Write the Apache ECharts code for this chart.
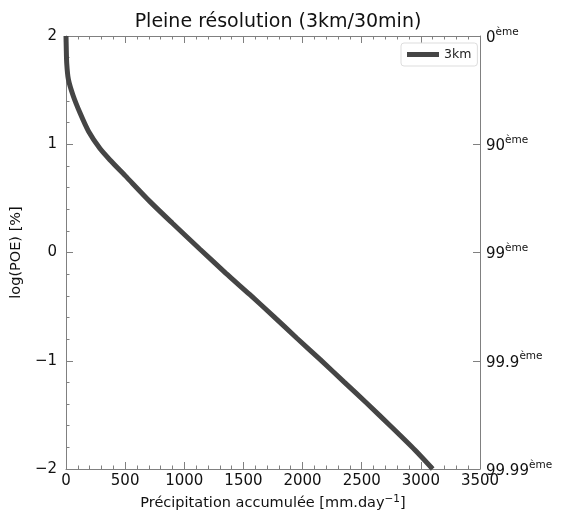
<!DOCTYPE html>
<html>
<head>
<meta charset="utf-8">
<script src="https://cdn.jsdelivr.net/npm/echarts@6/dist/echarts.min.js"></script>
<style>html,body{margin:0;padding:0;background:#fff}#c{width:565px;height:516px}</style>
</head>
<body>
<div id="c"></div>
<script>
const titleText = 'Pleine résolution (3km/30min)';
const seriesName = '3km';
const precip = [0, 2, 6, 20, 60, 118, 190, 287, 372, 500, 710, 900, 1133, 1350, 1555, 1750, 1950, 2150, 2350, 2550, 2750, 2950, 3100];
const logPoe = [2.0, 1.9, 1.75, 1.6, 1.45, 1.29, 1.12, 0.96, 0.855, 0.71, 0.47, 0.27, 0.03, -0.19, -0.39, -0.585, -0.79, -0.99, -1.195, -1.40, -1.61, -1.825, -2.0];
const leftTicks = [-2, -1, 0, 1, 2];
const centileLabels = ['99.99', '99.9', '99', '90', '0'];

const font = 'DejaVu Sans';
const axisGray = '#808080';
const pts = precip.map((x, i) => [x, logPoe[i]]);

const chart = echarts.init(document.getElementById('c'), null, {renderer: 'canvas'});
const baseX = {
  type: 'value', min: 0, max: 3500, interval: 500,
  axisLine: {show: true, onZero: false, lineStyle: {color: axisGray, width: 1}},
  axisTick: {show: true, inside: true, length: 7, lineStyle: {color: axisGray}},
  minorTick: {show: true, splitNumber: 5, length: 3.5, lineStyle: {color: axisGray}},
  splitLine: {show: false}
};
const baseY = {
  type: 'value', min: -2, max: 2, interval: 1,
  axisLine: {show: true, onZero: false, lineStyle: {color: axisGray, width: 1}},
  axisTick: {show: true, inside: true, length: 7, lineStyle: {color: axisGray}},
  splitLine: {show: false}
};
chart.setOption({
  animation: false,
  backgroundColor: '#fff',
  title: {
    text: titleText, left: 273, textAlign: 'center', top: 8,
    textStyle: {fontFamily: font, fontSize: 19, fontWeight: 'normal', color: '#111'}
  },
  grid: {left: 66, right: 85, top: 36, bottom: 47, containLabel: false, outerBoundsMode: 'none'},
  legend: {
    data: [seriesName], left: 401, top: 43, orient: 'vertical',
    padding: [5, 6, 5, 6], itemWidth: 32, itemHeight: 5, icon: 'rect',
    borderColor: '#dddddd', borderWidth: 1, borderRadius: 3,
    textStyle: {fontFamily: font, fontSize: 12.5, color: '#222'}
  },
  xAxis: [
    Object.assign({}, baseX, {
      position: 'bottom',
      axisLabel: {fontFamily: font, fontSize: 15, color: '#111', margin: 5,
        formatter: v => String(v)},
      name: 'Précipitation accumulée [mm.day{sup|−1}]',
      nameLocation: 'middle', nameGap: 24,
      nameTextStyle: {fontFamily: font, fontSize: 14.5, color: '#111',
        rich: {sup: {fontFamily: font, fontSize: 10.5, verticalAlign: 'top', padding: [0, 0, 7, 0]}}}
    }),
    Object.assign({}, baseX, {position: 'top', axisLabel: {show: false}})
  ],
  yAxis: [
    Object.assign({}, baseY, {
      position: 'left',
      minorTick: {show: true, splitNumber: 5, length: 3.5, lineStyle: {color: axisGray}},
      axisLabel: {fontFamily: font, fontSize: 15, color: '#111', margin: 9,
        formatter: v => leftTicks.includes(v) ? String(v).replace('-', '−') : ''},
      name: 'log(POE) [%]', nameLocation: 'middle', nameGap: 40, nameRotate: 90,
      nameTextStyle: {fontFamily: font, fontSize: 14.5, color: '#111'}
    }),
    Object.assign({}, baseY, {
      position: 'right',
      axisLabel: {fontFamily: font, fontSize: 15, color: '#111', margin: 6,
        formatter: v => '{b|' + centileLabels[leftTicks.indexOf(v)] + '}{s|ème}',
        rich: {b: {fontFamily: font, fontSize: 15, color: '#111', padding: [4, 0, 0, 0]},
               s: {fontFamily: font, fontSize: 10.5, color: '#111', verticalAlign: 'top', padding: [0, 0, 8, 0]}}},
      name: 'Centiles', nameLocation: 'middle', nameGap: 66, nameRotate: -90,
      nameTextStyle: {fontFamily: font, fontSize: 14.5, color: '#111'}
    })
  ],
  series: [{
    name: seriesName, type: 'line', xAxisIndex: 0, yAxisIndex: 0,
    data: pts, showSymbol: false, symbol: 'none',
    smooth: 0.25,
    clip: true,
    lineStyle: {color: '#454545', width: 5},
    itemStyle: {color: '#454545'}
  }]
});
</script>
</body>
</html>
